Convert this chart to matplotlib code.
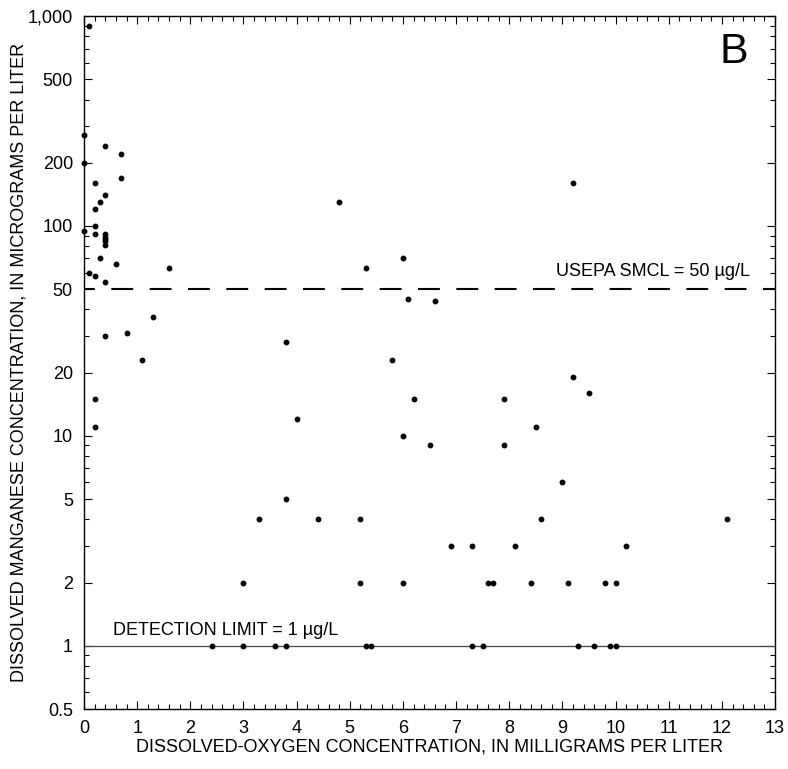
"""Dissolved manganese vs dissolved oxygen, panel B"""

import numpy as np
import matplotlib.pyplot as plt
from matplotlib.ticker import FixedLocator, FixedFormatter, MultipleLocator

plt.rcParams['font.family'] = ['Liberation Sans', 'DejaVu Sans']

# dissolved oxygen, mg/L
do_mgl = [
    0.1, 0.0, 0.4, 0.7, 0.0, 0.7, 0.2, 0.4, 0.3, 0.2,
    0.0, 0.2, 0.2, 0.4, 0.4, 0.4, 0.4, 0.4, 0.3, 0.6,
    1.6, 0.1, 0.2, 0.4, 1.3, 0.8, 0.4, 1.1, 0.2, 0.2,
    3.0, 3.3, 2.4, 3.0, 3.6, 3.8,
    4.8, 6.0, 5.3, 6.1, 6.6, 3.8, 5.8, 6.2, 4.0, 6.0,
    6.5, 3.8, 4.4, 5.2, 6.9, 5.2, 6.0, 5.3, 5.4,
    9.2, 9.2, 7.9, 9.5, 8.5, 7.9, 9.0, 8.6, 7.3, 8.1,
    10.2, 7.6, 7.7, 8.4, 9.1, 9.8, 10.0,
    7.3, 7.5, 9.3, 9.6, 9.9, 10.0, 12.1,
]
# dissolved manganese, ug/L
mn_ugl = [
    900, 270, 240, 220, 200, 170, 160, 140, 130, 120,
    95, 100, 92, 92, 89, 87, 85, 81, 70, 66,
    63, 60, 58, 54, 37, 31, 30, 23, 15, 11,
    2, 4, 1, 1, 1, 1,
    130, 70, 63, 45, 44, 28, 23, 15, 12, 10,
    9, 5, 4, 4, 3, 2, 2, 1, 1,
    160, 19, 15, 16, 11, 9, 6, 4, 3, 3,
    3, 2, 2, 2, 2, 2, 2,
    1, 1, 1, 1, 1, 1, 4,
]

smcl = 50
detection_limit = 1
y_major = [0.5, 1, 2, 5, 10, 20, 50, 100, 200, 500, 1000]
y_labels = ['0.5', '1', '2', '5', '10', '20', '50', '100', '200', '500', '1,000']
y_minor = [0.6, 0.7, 0.8, 0.9, 3, 4, 6, 7, 8, 9, 30, 40, 60, 70, 80, 90,
           300, 400, 600, 700, 800, 900]

fig = plt.figure(figsize=(7.88, 7.69), dpi=100)
ax = fig.add_axes([0.1066, 0.078, 0.877, 0.9012])

# start the dash pattern a bit left of the axis so a short dash shows at x=0
ax.plot([-0.2, 13], [smcl, smcl], color='black', linewidth=1.5,
        linestyle=(0, (10.5, 7.9)))
ax.axhline(detection_limit, color='#444444', linewidth=0.9)

ax.plot(do_mgl, mn_ugl, 'o', color='black', markersize=3.2, clip_on=False)

ax.set_yscale('log')
ax.set_xlim(0, 13)
ax.set_ylim(0.5, 1000)

ax.xaxis.set_major_locator(MultipleLocator(1))
ax.xaxis.set_minor_locator(MultipleLocator(0.2))
ax.yaxis.set_major_locator(FixedLocator(y_major))
ax.yaxis.set_major_formatter(FixedFormatter(y_labels))
ax.yaxis.set_minor_locator(FixedLocator(y_minor))
ax.yaxis.set_minor_formatter(FixedFormatter([''] * len(y_minor)))

ax.tick_params(which='both', direction='in', top=True, right=True,
               labelsize=13, width=0.8)
ax.tick_params(which='major', length=6, pad=8)
ax.tick_params(which='minor', length=3.5)
for s in ax.spines.values():
    s.set_linewidth(1.0)

ax.text(12.53, 58, 'USEPA SMCL = 50 \u00b5g/L', ha='right', va='baseline', fontsize=13)
ax.text(0.55, 1.12, 'DETECTION LIMIT = 1 \u00b5g/L', ha='left', va='baseline', fontsize=13)
ax.text(12.22, 600, 'B', ha='center', va='baseline', fontsize=31)

ax.set_xlabel('DISSOLVED-OXYGEN CONCENTRATION, IN MILLIGRAMS PER LITER',
              fontsize=13, labelpad=1)
ax.set_ylabel('DISSOLVED MANGANESE CONCENTRATION, IN MICROGRAMS PER LITER',
              fontsize=13, labelpad=0)

plt.savefig('out.png', dpi=100)
